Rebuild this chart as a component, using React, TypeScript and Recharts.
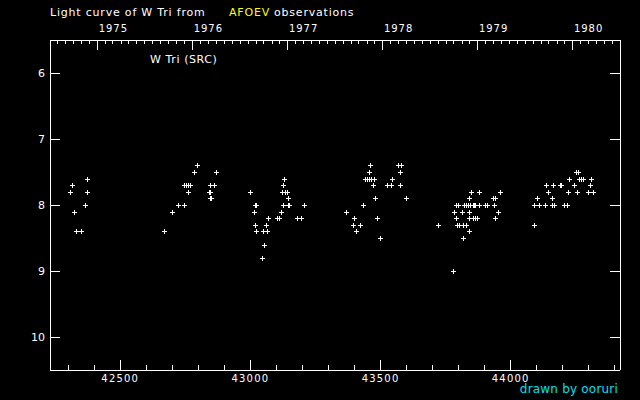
import React from "react";
import {
  ScatterChart,
  Scatter,
  XAxis,
  YAxis,
  Customized,
} from "recharts";

// JD - 2400000 and visual magnitude, one pair of arrays per observing season
const season1Jd = [42308, 42316, 42323, 42331, 42350, 42366, 42373, 42373];
const season1Mag = [7.8, 7.7, 8.1, 8.4, 8.4, 8.0, 7.6, 7.8];

const season2Jd = [
  42669, 42700, 42723, 42746, 42744, 42751, 42759, 42769, 42761, 42784, 42796,
  42841, 42843, 42845, 42847, 42845, 42861, 42869,
];
const season2Mag = [
  8.4, 8.1, 8.0, 8.0, 7.7, 7.7, 7.7, 7.7, 7.8, 7.5, 7.4, 7.8, 7.8, 7.9, 7.9,
  7.7, 7.7, 7.5,
];

const season3Jd = [
  43000, 43016, 43020, 43015, 43019, 43023, 43046, 43051, 43053, 43049, 43064,
  43061, 43069, 43104, 43108, 43119, 43122, 43133, 43142, 43126, 43130, 43126,
  43145, 43143, 43147, 43180, 43195, 43207,
];
const season3Mag = [
  7.8, 8.0, 8.0, 8.1, 8.3, 8.4, 8.8, 8.6, 8.6, 8.4, 8.4, 8.3, 8.2, 8.2, 8.2,
  8.1, 7.8, 7.8, 7.8, 7.7, 7.6, 8.0, 7.9, 8.0, 8.0, 8.2, 8.2, 8.0,
];

const season4Jd = [
  43368, 43395, 43399, 43407, 43422, 43434, 43439, 43447, 43454, 43462, 43475,
  43457, 43460, 43472, 43480, 43487, 43499, 43523, 43540, 43545, 43568, 43577,
  43576, 43576, 43599,
];
const season4Mag = [
  8.1, 8.3, 8.2, 8.4, 8.3, 8.0, 7.6, 7.6, 7.6, 7.6, 7.6, 7.5, 7.4, 7.7, 7.9,
  8.2, 8.5, 7.7, 7.7, 7.6, 7.4, 7.4, 7.5, 7.7, 7.9,
];

const season5Jd = [
  43722, 43779, 43783, 43791, 43791, 43799, 43795, 43802, 43814, 43818, 43818,
  43822, 43829, 43829, 43837, 43841, 43841, 43841, 43841, 43845, 43849, 43856,
  43856, 43860, 43864, 43864, 43872, 43879, 43879, 43902, 43910, 43933, 43937,
  43941, 43941, 43952, 43960,
];
const season5Mag = [
  8.3, 9.0, 8.1, 8.0, 8.2, 8.0, 8.3, 8.3, 8.1, 8.3, 8.5, 8.0, 8.0, 8.3, 8.0,
  7.9, 8.1, 8.2, 8.4, 8.0, 7.8, 8.0, 8.2, 8.0, 8.0, 8.2, 8.2, 7.8, 8.0, 8.0,
  8.0, 7.9, 8.0, 7.9, 8.2, 8.1, 7.8,
];

const season6Jd = [
  44091, 44091, 44102, 44110, 44133, 44137, 44144, 44160, 44160, 44164, 44168,
  44191, 44195, 44206, 44217, 44221, 44225, 44244, 44252, 44260, 44256, 44263,
  44271, 44279, 44298, 44306, 44310, 44317,
];
const season6Mag = [
  8.0, 8.3, 7.9, 8.0, 8.0, 7.7, 7.8, 7.9, 8.0, 7.7, 8.0, 7.7, 7.7, 8.0, 8.0,
  7.8, 7.6, 7.7, 7.5, 7.5, 7.8, 7.6, 7.6, 7.6, 7.8, 7.7, 7.6, 7.8,
];

// axis ticks
const dayTicks = [
  42300, 42400, 42500, 42600, 42700, 42800, 42900, 43000, 43100, 43200, 43300,
  43400, 43500, 43600, 43700, 43800, 43900, 44000, 44100, 44200, 44300, 44400,
];
const magTicks = [6, 7, 8, 9, 10];
const yearNames = ["1974", "1975", "1976", "1977", "1978", "1979", "1980"];
const yearStarts = [42048, 42413, 42778, 43144, 43509, 43874, 44239];
const monthDays = [31, 28, 31, 30, 31, 30, 31, 31, 30, 31, 30, 31];

const X_DOMAIN: [number, number] = [42230, 44420];
const Y_DOMAIN: [number, number] = [5.5, 10.5];

const seasons = [
  [season1Jd, season1Mag],
  [season2Jd, season2Mag],
  [season3Jd, season3Mag],
  [season4Jd, season4Mag],
  [season5Jd, season5Mag],
  [season6Jd, season6Mag],
];
const points = seasons.flatMap(([jd, mag]) =>
  jd.map((d, i) => ({ jd: d, mag: mag[i] }))
);

const monthTicks: number[] = [];
yearStarts.forEach((start, yi) => {
  const leap = Number(yearNames[yi]) % 4 === 0;
  let d = start;
  monthDays.forEach((n, m) => {
    if (d > X_DOMAIN[0] && d < X_DOMAIN[1]) monthTicks.push(d);
    d += n + (leap && m === 1 ? 1 : 0);
  });
});

const FONT = "DejaVu Sans, sans-serif";
const WHITE = "#ffffff";

const Plus = (props: any) => {
  const { cx, cy } = props;
  if (cx == null || cy == null) return null;
  const px = Math.round(cx);
  const py = Math.round(cy);
  return (
    <g fill={WHITE} shapeRendering="crispEdges">
      <rect x={px - 2} y={py} width={5} height={1} />
      <rect x={px} y={py - 2} width={1} height={5} />
    </g>
  );
};

const Nothing = () => <g />;

const BottomTick = (props: any) => {
  const { x, y, payload } = props;
  const major = payload.value % 500 === 0;
  return (
    <g>
      <line
        x1={x}
        y1={y}
        x2={x}
        y2={y - (major ? 10 : 5)}
        stroke={WHITE}
        shapeRendering="crispEdges"
      />
      {major && (
        <text
          x={x}
          y={y + 12}
          fill={WHITE}
          fontSize={10}
          letterSpacing={1.2}
          fontFamily={FONT}
          textAnchor="middle"
        >
          {payload.value}
        </text>
      )}
    </g>
  );
};

const TopTick = (props: any) => {
  const { x, y, payload } = props;
  const yi = yearStarts.indexOf(payload.value);
  return (
    <g>
      <line
        x1={x}
        y1={y}
        x2={x}
        y2={y + (yi >= 0 ? 10 : 4)}
        stroke={WHITE}
        shapeRendering="crispEdges"
      />
      {yi >= 0 && (
        <text
          x={x + 1}
          y={y - 8}
          fill={WHITE}
          fontSize={10}
          letterSpacing={1}
          fontFamily={FONT}
          textAnchor="start"
        >
          {yearNames[yi]}
        </text>
      )}
    </g>
  );
};

const LeftTick = (props: any) => {
  const { x, y, payload } = props;
  return (
    <g>
      <line x1={x} y1={y} x2={x + 10} y2={y} stroke={WHITE} shapeRendering="crispEdges" />
      <text x={x - 5} y={y + 4} fill={WHITE} fontSize={11} fontFamily={FONT} textAnchor="end">
        {payload.value}
      </text>
    </g>
  );
};

const RightTick = (props: any) => {
  const { x, y } = props;
  return <line x1={x} y1={y} x2={x - 10} y2={y} stroke={WHITE} shapeRendering="crispEdges" />;
};

const Labels = () => (
  <g fontFamily={FONT} fontSize={11} letterSpacing={0.8}>
    <text x={50} y={16} fill={WHITE}>
      Light curve of W Tri from
    </text>
    <text x={229} y={16} fill="#ffff00">
      AFOEV
    </text>
    <text x={274} y={16} fill={WHITE}>
      observations
    </text>
    <text x={150} y={63} fill={WHITE} letterSpacing={0.6}>
      W Tri (SRC)
    </text>
    <text x={618} y={393} fill="#00e0f0" textAnchor="end" fontSize={12} letterSpacing={0.2}>
      drawn by ooruri
    </text>
  </g>
);

const axisLine = { stroke: WHITE, shapeRendering: "crispEdges" };

export default function App() {
  return (
    <div style={{ position: "absolute", left: 0, top: 0, width: 640, height: 400, background: "#000" }}>
      <ScatterChart width={640} height={400} margin={{ top: 0, right: 0, bottom: 0, left: 0 }}>
        <XAxis
          xAxisId="bottom"
          dataKey="jd"
          type="number"
          domain={X_DOMAIN}
          allowDataOverflow
          ticks={dayTicks}
          interval={0}
          height={30}
          tickSize={0}
          tickMargin={0}
          tickLine={false}
          axisLine={axisLine}
          tick={<BottomTick />}
        />
        <XAxis
          xAxisId="top"
          dataKey="jd"
          orientation="top"
          type="number"
          domain={X_DOMAIN}
          allowDataOverflow
          ticks={monthTicks}
          interval={0}
          height={40}
          tickSize={0}
          tickMargin={0}
          tickLine={false}
          axisLine={axisLine}
          tick={<TopTick />}
        />
        <YAxis
          yAxisId="left"
          dataKey="mag"
          type="number"
          domain={Y_DOMAIN}
          allowDataOverflow
          reversed
          ticks={magTicks}
          interval={0}
          width={50}
          tickSize={0}
          tickMargin={0}
          tickLine={false}
          axisLine={axisLine}
          tick={<LeftTick />}
        />
        <YAxis
          yAxisId="right"
          dataKey="mag"
          orientation="right"
          type="number"
          domain={Y_DOMAIN}
          allowDataOverflow
          reversed
          ticks={magTicks}
          interval={0}
          width={20}
          tickSize={0}
          tickMargin={0}
          tickLine={false}
          axisLine={axisLine}
          tick={<RightTick />}
        />
        <Scatter
          data={points}
          xAxisId="bottom"
          yAxisId="left"
          dataKey="mag"
          shape={Plus}
          isAnimationActive={false}
        />
        {/* binds the top and right frame axes so their ticks are drawn */}
        <Scatter
          data={points}
          xAxisId="top"
          yAxisId="right"
          dataKey="mag"
          shape={Nothing}
          isAnimationActive={false}
        />
        <Customized component={Labels} />
      </ScatterChart>
    </div>
  );
}
